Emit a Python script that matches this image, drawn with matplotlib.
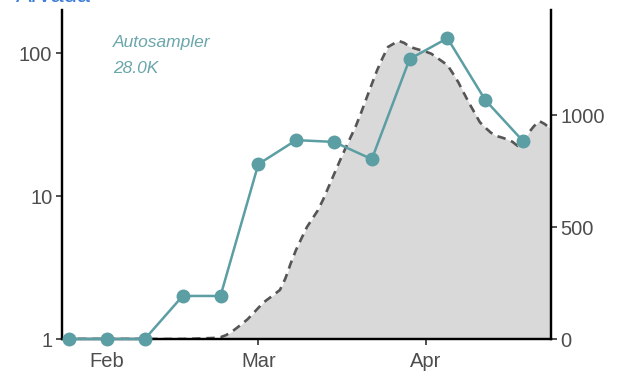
import numpy as np
import pandas as pd
import matplotlib
matplotlib.use('Agg')
import matplotlib.pyplot as plt
import matplotlib.dates as mdates
from matplotlib.ticker import FixedLocator, NullLocator

plt.rcParams['font.family'] = ['Liberation Sans', 'DejaVu Sans']

# weekly autosampler counts (left, log axis)
week_dates = ['2021-01-25', '2021-02-01', '2021-02-08', '2021-02-15', '2021-02-22',
              '2021-03-01', '2021-03-08', '2021-03-15', '2021-03-22', '2021-03-29',
              '2021-04-05', '2021-04-12', '2021-04-19']
week_vals = [1, 1, 1, 2.0, 2.0, 16.7, 24.6, 23.9, 18.1, 90.8, 127, 46.9, 24.2]

# daily background series (right axis), 2021-01-24 .. 2021-04-24
area_start = '2021-01-24'
area_vals = [0, 0, 0, 0, 0, 0, 0, 0, 0, 0, 0, 0, 0, 0, 0, 0, 0, 0, 0, 0, 0, 0, 0,
             1, 1, 2, 3, 4, 5, 8,
             17, 31, 49, 68, 88, 113, 139, 164, 182, 200, 219, 270, 338, 399, 450,
             500, 537, 574, 623, 679, 735, 791, 845, 897, 948, 1009, 1074, 1138,
             1201, 1255, 1304, 1318, 1331, 1322, 1305, 1297, 1290, 1283, 1274, 1257,
             1240, 1223, 1186, 1147, 1100, 1054, 1011, 968, 944, 922, 907, 900, 892,
             881, 862, 875, 920, 950, 973, 960, 940]

title = 'Arvada'
label_lines = ['Autosampler', '28.0K']

teal = '#5b9ea3'
tick_col = '#4d4d4d'

week_x = pd.to_datetime(week_dates)
area_x = pd.date_range(area_start, periods=len(area_vals), freq='D')

fig = plt.figure(figsize=(6.2, 3.76), dpi=100)
ax = fig.add_axes([0.1, 0.0984, 0.788, 0.875])
ax2 = ax.twinx()

# background area on the right axis
ax2.fill_between(area_x, 0, area_vals, color='#d9d9d9', linewidth=0, zorder=1)
ax2.plot(area_x, area_vals, color='#555555', linewidth=1.9, dashes=(3.2, 2.2), zorder=2)
ax2.set_ylim(0, 1469)
ax2.yaxis.set_major_locator(FixedLocator([0, 500, 1000]))

# teal line on the left axis, drawn above
ax.set_zorder(ax2.get_zorder() + 1)
ax.patch.set_visible(False)
ax.plot(week_x, week_vals, color=teal, linewidth=1.8, marker='o', markersize=9,
        clip_on=False, zorder=5)
ax.set_yscale('log')
ax.set_ylim(1, 200)
ax.yaxis.set_major_locator(FixedLocator([1, 10, 100]))
ax.yaxis.set_minor_locator(NullLocator())
ax.set_yticklabels(['1', '10', '100'])

ax.set_xlim(pd.Timestamp('2021-01-23 16:00'), pd.Timestamp('2021-04-24 02:00'))
ax.set_xticks(pd.to_datetime(['2021-02-01', '2021-03-01', '2021-04-01']))
ax.set_xticklabels(['Feb', 'Mar', 'Apr'])

for a in (ax, ax2):
    a.spines['top'].set_visible(False)
    for s in ('left', 'right', 'bottom'):
        a.spines[s].set_linewidth(1.6)
        a.spines[s].set_color('black')
    a.tick_params(axis='both', length=4, width=1.2, color='#333333',
                  labelsize=14.5, labelcolor=tick_col, pad=3)
    a.grid(False)
ax.tick_params(axis='x', pad=5)

ax.text(0.104, 0.9, label_lines[0], transform=ax.transAxes, color='#6aa6aa',
        fontsize=12.5, style='italic', va='center')
ax.text(0.104, 0.822, label_lines[1], transform=ax.transAxes, color='#6aa6aa',
        fontsize=12.5, style='italic', va='center')

fig.text(0.025, 0.995, title, color='#3b7dd8', fontsize=17, va='baseline')

fig.savefig('out.png', dpi=100)
